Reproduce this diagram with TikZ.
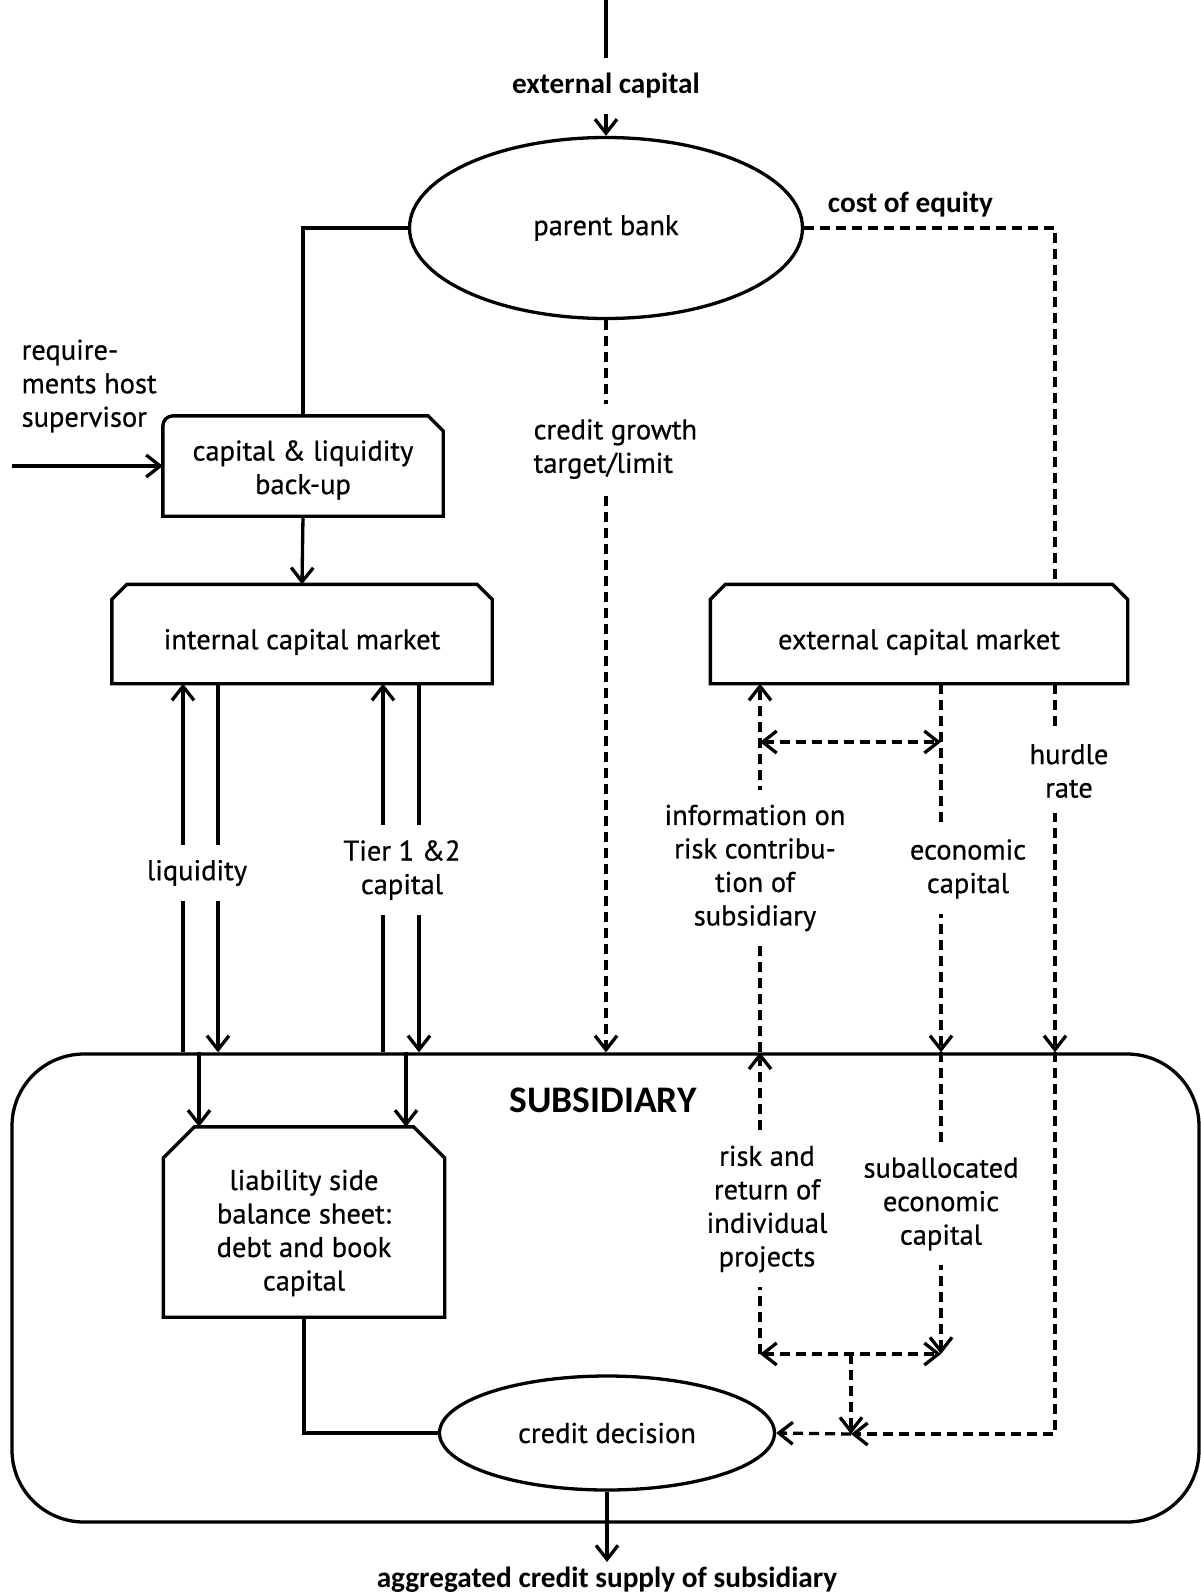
\documentclass[tikz,border=0pt]{standalone}
\usepackage{fontspec}
\setmainfont{PT Sans}[FakeBold=0.6]
\newfontfamily\headfont{Carlito}
\usetikzlibrary{arrows.meta,shapes.geometric,positioning}

\begin{document}
\begin{tikzpicture}[x=1pt, y=-1pt,
    line width=3.3pt,
    font=\fontsize{28.5}{33.5}\selectfont,
    box/.style = {rectangle, inner sep=0pt},
    txt/.style = {align=center, inner sep=0pt},
    oval/.style = {draw, ellipse, inner sep=0pt},
    lbl/.style = {fill=white, align=center, inner xsep=2pt, inner ysep=15pt},
    head/.style = {font=\headfont\bfseries\fontsize{29.3}{34}\selectfont},
    dsh/.style = {dash pattern=on 10pt off 6pt},
    >={Straight Barb[length=14pt,width=22pt]},
]
\useasboundingbox (0,0) rectangle (1200,1593);

\node[oval, minimum width=393pt, minimum height=181pt] (pb) at (606,228) {parent bank};
\node[box, minimum width=277pt, minimum height=97pt] (cl) at (303,466) {};
\node[txt] (clt) at (303,470) {capital \& liquidity\\back-up};
\node[box, minimum width=377pt, minimum height=96pt] (icm) at (302,634) {};
\node[txt] (icmt) at (302,642) {internal capital market};
\node[box, minimum width=414pt, minimum height=96pt] (ecm) at (919,634) {};
\node[txt] (ecmt) at (919,642) {external capital market};
\node[draw, rounded corners=72pt, minimum width=1187pt, minimum height=468pt] (sub) at (605.5,1288) {};
\node[head, font=\headfont\bfseries\fontsize{37.5}{42}\selectfont] (st) at (603,1100) {SUBSIDIARY};
\node[box, minimum width=278pt, minimum height=187pt] (lb) at (304,1222) {};
\node[txt] (lbt) at (304,1233) {liability side\\balance sheet:\\debt and book\\capital};
\node[oval, minimum width=335pt, minimum height=114pt] (cd) at (607,1433) {credit decision};
\node[head, anchor=north] (agg) at (607,1562) {aggregated credit supply of subsidiary};
\node[align=left, anchor=west, inner sep=0pt] (req) at (20,386) {require-\\ments host\\supervisor};
\node[head, anchor=west] (coe) at (823,205) {cost of equity};

\foreach \n/\c in {icm/15, ecm/15, lb/31}
    \draw ([yshift=-\c pt]\n.north west) -- ([xshift=\c pt]\n.north west) -- ([xshift=-\c pt]\n.north east) -- ([yshift=-\c pt]\n.north east) -- (\n.south east) -- (\n.south west) -- cycle;
\draw (cl.south east) -- (cl.south west) -- ([yshift=-10pt]cl.north west) arc[start angle=180, end angle=90, radius=10pt] -- ([xshift=-15pt]cl.north east) -- ([yshift=-15pt]cl.north east) -- cycle;

\coordinate (top) at (606,0);
\coordinate (rq) at (12,466);
\coordinate (lq1) at (183,0);
\coordinate (lq2) at (218,0);
\coordinate (t1) at (383,0);
\coordinate (t2) at (419,0);
\coordinate (d1) at (199,0);
\coordinate (d2) at (406,0);
\coordinate (ix) at (760,0);
\coordinate (ex) at (941,0);
\coordinate (hr) at (1055,0);
\coordinate (ia) at (760,742);
\coordinate (ea) at (941,742);
\coordinate (ib) at (760,1354);
\coordinate (eb) at (941,1354);
\coordinate (mb) at (851,1354);
\coordinate (jn) at (851,1434);

\draw[->] (top) -- (pb.north);
\draw (pb.west) -| (cl.north);
\draw[->] (rq) -- (cl.west);
\draw[->] (cl.south) -- (icm.north);
\draw[->] (lq1 |- sub.north) -- (lq1 |- icm.south);
\draw[->] (lq2 |- icm.south) -- (lq2 |- sub.north);
\draw[->] (t1 |- sub.north) -- (t1 |- icm.south);
\draw[->] (t2 |- icm.south) -- (t2 |- sub.north);
\draw[->] (d1 |- sub.north) -- (d1 |- lb.north);
\draw[->] (d2 |- sub.north) -- (d2 |- lb.north);
\draw (lb.south) |- (cd.west);
\draw[->] (cd.south) -- (agg.north);

\draw[dsh, ->] (pb.south) -- (pb.south |- sub.north);
\draw[dsh] (pb.east) -| (hr |- ecm.north);
\draw[dsh, ->] (hr |- ecm.south) -- (hr |- sub.north);
\draw[dsh, ->] (hr |- sub.north) |- (jn);
\draw[dsh, ->] (jn) -- (cd.east);
\draw[dsh, ->] (mb) -- (jn);
\draw[dsh, ->] (ix |- sub.north) -- (ix |- ecm.south);
\draw[dsh, <->] (ia) -- (ea);
\draw[dsh, ->] (ex |- ecm.south) -- (ex |- sub.north);
\draw[dsh, ->] (ib) -- (ix |- sub.north);
\draw[dsh, ->] (ex |- sub.north) -- (eb);
\draw[dsh, <->] (ib) -- (eb);

\node[lbl, head] (ec) at (606,86) {external capital};
\node[lbl, align=left, anchor=west] (cg) at (530,449) {credit growth\\target/limit};
\node[lbl] (lqt) at (197,873) {liquidity};
\node[lbl] (tr) at (402,870) {Tier 1 \&2\\capital};
\node[lbl] (inf) at (755,868) {information on\\risk contribu-\\tion of\\subsidiary};
\node[lbl] (hur) at (1069,771) {hurdle\\rate};
\node[lbl] (eco) at (968,869) {economic\\capital};
\node[lbl] (rr) at (767,1209) {risk and\\return of\\individual\\projects};
\node[lbl] (sea) at (941,1204) {suballocated\\economic\\capital};
\end{tikzpicture}
\end{document}
